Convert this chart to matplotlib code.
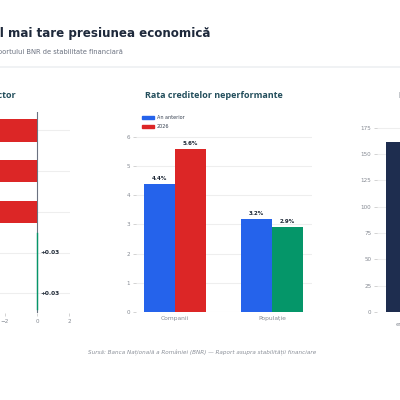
import matplotlib
matplotlib.use("Agg")
import matplotlib.pyplot as plt
from matplotlib.patches import Patch

# date
sectoare = ["Construcții", "Industrie", "Comerț", "Agricultură", "Servicii"]
variatie = [-4.8, -4.1, -3.5, 0.03, 0.03]
etichete_var = ["-4.8", "-4.1", "-3.5", "+0.03", "+0.03"]

segmente = ["Companii", "Populație"]
npl_anterior = [4.4, 3.2]
npl_2026 = [5.6, 2.9]

expunere_cat = ["estimat", "total"]
expunere_val = [161, 120]

W, H = 400, 400
TEAL = "#234e5c"
GRAY = "#858a93"
GRID = "#eeeeee"


def rect(x0, y0, x1, y1):
    # pixeli -> fractii din figura
    return [x0 / W, 1 - y1 / H, (x1 - x0) / W, (y1 - y0) / H]


def stil(ax):
    for s in ax.spines.values():
        s.set_visible(False)
    ax.tick_params(labelsize=4.1, colors="#cccccc", labelcolor=GRAY, length=2.5, width=0.6, pad=1.5)


fig = plt.figure(figsize=(4, 4), dpi=100)
fig.patch.set_facecolor("white")

fig.text(210 / W, 1 - 34 / H, "Unde se simte cel mai tare presiunea economică", ha="right", va="center",
         fontsize=8.6, fontweight="bold", color="#1e293b")
fig.text(123 / W, 1 - 52 / H, "Potrivit raportului BNR de stabilitate financiară", ha="right",
         va="center", fontsize=4.9, color="#6b7280")
fig.add_artist(plt.Line2D([0, 1], [1 - 67 / H, 1 - 67 / H], color="#eef0f2", lw=1.2))
fig.text(202 / W, 1 - 353 / H,
         "Sursă: Banca Națională a României (BNR) — Raport asupra stabilității financiare",
         ha="center", va="center", fontsize=4.1, style="italic", color="#8a8f98")

# panou stanga
ax1 = fig.add_axes(rect(-59, 112, 70, 313))
stil(ax1)
y = list(range(len(sectoare)))
culori1 = ["#dc2626" if v < 0 else "#059669" for v in variatie]
ax1.barh(y, variatie, height=0.55, color=culori1, zorder=2)
ax1.set_xlim(-6, 2.06)
ax1.set_ylim(4.48, -0.45)
ax1.set_yticks(y)
ax1.set_yticklabels(sectoare)
ax1.tick_params(axis="y", length=0)
ax1.set_xticks([-6, -4, -2, 0, 2])
ax1.set_xticklabels(["−6", "−4", "−2", "0", "2"])
for yy in y:
    ax1.axhline(yy, color=GRID, lw=0.8, zorder=0)
ax1.axvline(0, color="#6b7280", lw=0.8, zorder=1)
ax1.axvline(0, ymin=0.02, ymax=0.4, color="#059669", lw=1.0, zorder=3)
for yy, v, t in zip(y, variatie, etichete_var):
    if v > 0:
        ax1.text(v + 0.2, yy, t, ha="left", va="center", fontsize=4.2, fontweight="bold", color="#1f2937")
    else:
        ax1.text(v - 0.2, yy, t, ha="right", va="center", fontsize=4.2, fontweight="bold", color="#1f2937")
fig.text(16 / W, 1 - 96 / H, "Evoluția creditării pe sector", ha="right", va="center",
         fontsize=6.5, fontweight="bold", color=TEAL, family="Open Sans")

# panou mijloc
ax2 = fig.add_axes(rect(136, 131, 312, 312))
stil(ax2)
x = [0, 1]
bw = 0.32
ax2.bar([i - bw / 2 for i in x], npl_anterior, width=bw, color="#2563eb", zorder=2)
ax2.bar([i + bw / 2 for i in x], npl_2026, width=bw, color=["#dc2626", "#059669"], zorder=2)
ax2.set_xlim(-0.402, 1.412)
ax2.set_ylim(0, 6.2)
ax2.set_yticks(range(0, 7))
ax2.set_xticks(x)
ax2.set_xticklabels(segmente)
ax2.tick_params(axis="x", length=0, labelsize=4.3, pad=3)
ax2.grid(axis="y", color=GRID, lw=0.8, zorder=0)
ax2.set_axisbelow(True)
for i in x:
    ax2.text(i - bw / 2, npl_anterior[i] + 0.1, f"{npl_anterior[i]:.1f}%", ha="center", va="bottom",
             fontsize=4, fontweight="bold", color="#1f2937")
    ax2.text(i + bw / 2, npl_2026[i] + 0.1, f"{npl_2026[i]:.1f}%", ha="center", va="bottom",
             fontsize=4, fontweight="bold", color="#1f2937")
fig.text(214 / W, 1 - 96 / H, "Rata creditelor neperformante", ha="center", va="center",
         fontsize=6.5, fontweight="bold", color=TEAL, family="Open Sans")
fig.legend(handles=[Patch(color="#2563eb", label="An anterior"), Patch(color="#dc2626", label="2026")],
           loc="upper left", bbox_to_anchor=(140 / W, 1 - 113 / H), frameon=False, fontsize=3.5,
           handlelength=2.3, handleheight=0.5, handletextpad=0.6, labelspacing=0.75, borderpad=0,
           labelcolor="#374151")

# panou dreapta
ax3 = fig.add_axes(rect(377, 116, 497, 312))
stil(ax3)
ax3.bar(range(len(expunere_cat)), expunere_val, width=0.7, color="#1e2d4f", zorder=2)
ax3.set_xlim(-0.5, 1.5)
ax3.set_ylim(0, 186)
ax3.set_yticks(range(0, 176, 25))
ax3.set_xticks(range(len(expunere_cat)))
ax3.set_xticklabels(expunere_cat)
ax3.tick_params(axis="x", length=0, labelsize=4.3, pad=7)
ax3.grid(axis="y", color=GRID, lw=0.8, zorder=0)
ax3.set_axisbelow(True)
fig.text(399 / W, 1 - 96 / H, "Datoria externă", ha="left", va="center",
         fontsize=6.5, fontweight="bold", color="#1e293b", family="Open Sans")

fig.savefig("out.png", dpi=100)
